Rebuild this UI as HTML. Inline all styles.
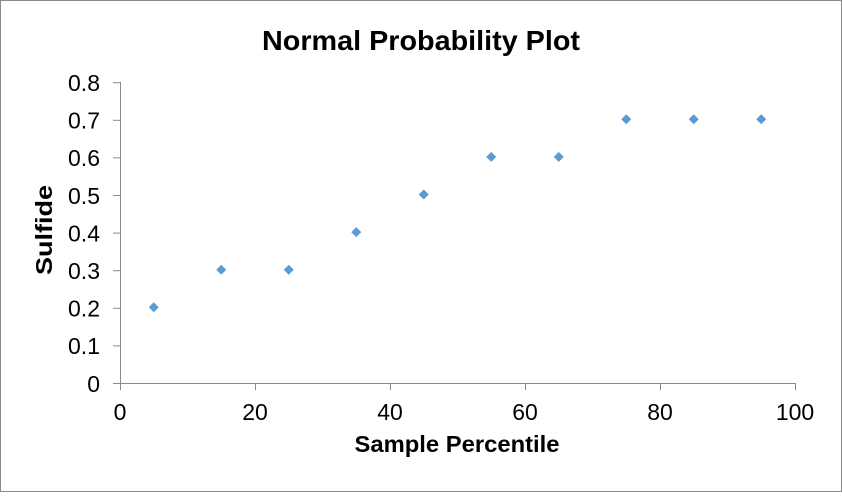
<!DOCTYPE html>
<html><head><style>body{margin:0;background:#fff}</style></head><body>
<svg width="842" height="492" xmlns="http://www.w3.org/2000/svg" font-family="Liberation Sans, Arial, sans-serif">
<rect x="0.5" y="0.5" width="841" height="491" fill="#fff" stroke="#888" stroke-width="1"/>
<text x="421" y="50" text-anchor="middle" font-size="28" font-weight="bold" textLength="318" lengthAdjust="spacingAndGlyphs">Normal Probability Plot</text>
<g stroke="#888" stroke-width="1">
<line x1="120.5" y1="82" x2="120.5" y2="384"/>
<line x1="120" y1="383.5" x2="795" y2="383.5"/>
<line x1="113" y1="82.7" x2="120" y2="82.7"/>
<line x1="113" y1="120.3" x2="120" y2="120.3"/>
<line x1="113" y1="157.9" x2="120" y2="157.9"/>
<line x1="113" y1="195.5" x2="120" y2="195.5"/>
<line x1="113" y1="233.1" x2="120" y2="233.1"/>
<line x1="113" y1="270.7" x2="120" y2="270.7"/>
<line x1="113" y1="308.3" x2="120" y2="308.3"/>
<line x1="113" y1="345.9" x2="120" y2="345.9"/>
<line x1="113" y1="383.5" x2="120" y2="383.5"/>
<line x1="120.5" y1="383" x2="120.5" y2="390"/>
<line x1="255.5" y1="383" x2="255.5" y2="390"/>
<line x1="390.5" y1="383" x2="390.5" y2="390"/>
<line x1="525.5" y1="383" x2="525.5" y2="390"/>
<line x1="660.5" y1="383" x2="660.5" y2="390"/>
<line x1="795.5" y1="383" x2="795.5" y2="390"/>
</g>
<g font-size="23" text-anchor="end">
<text x="100" y="91">0.8</text><text x="100" y="128.6">0.7</text><text x="100" y="166.2">0.6</text>
<text x="100" y="203.8">0.5</text><text x="100" y="241.4">0.4</text><text x="100" y="279">0.3</text>
<text x="100" y="316.6">0.2</text><text x="100" y="354.2">0.1</text><text x="100" y="391.8">0</text>
</g>
<g font-size="23" text-anchor="middle">
<text x="120" y="420">0</text><text x="255" y="420">20</text><text x="390" y="420">40</text>
<text x="525" y="420">60</text><text x="660" y="420">80</text><text x="795" y="420">100</text>
</g>
<text x="457" y="452" text-anchor="middle" font-size="23" font-weight="bold" textLength="205" lengthAdjust="spacingAndGlyphs">Sample Percentile</text>
<text transform="translate(52,230) rotate(-90)" text-anchor="middle" font-size="23" font-weight="bold" textLength="90" lengthAdjust="spacingAndGlyphs">Sulfide</text>
<g fill="#5b9bd5">
<path d="M153.75,302.3 l5,5 l-5,5 l-5,-5z"/>
<path d="M221.25,264.7 l5,5 l-5,5 l-5,-5z"/>
<path d="M288.75,264.7 l5,5 l-5,5 l-5,-5z"/>
<path d="M356.25,227.1 l5,5 l-5,5 l-5,-5z"/>
<path d="M423.75,189.5 l5,5 l-5,5 l-5,-5z"/>
<path d="M491.25,151.9 l5,5 l-5,5 l-5,-5z"/>
<path d="M558.75,151.9 l5,5 l-5,5 l-5,-5z"/>
<path d="M626.25,114.3 l5,5 l-5,5 l-5,-5z"/>
<path d="M693.75,114.3 l5,5 l-5,5 l-5,-5z"/>
<path d="M761.25,114.3 l5,5 l-5,5 l-5,-5z"/>
</g>
</svg>
</body></html>
